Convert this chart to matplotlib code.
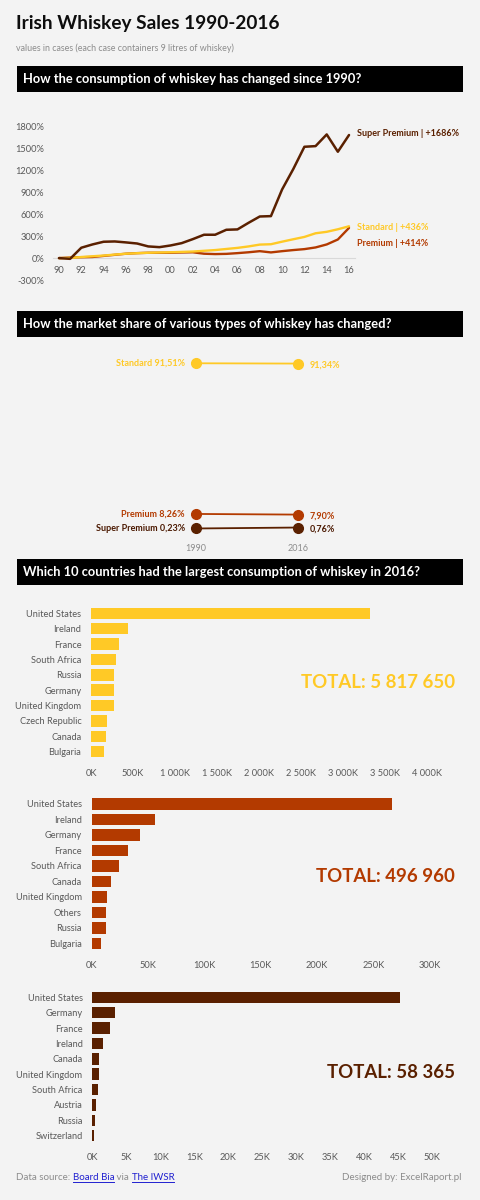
import matplotlib
matplotlib.use('Agg')
import matplotlib.pyplot as plt
from matplotlib.patches import Rectangle
from matplotlib.ticker import FuncFormatter, FixedLocator

plt.rcParams['font.family'] = ['Lato', 'DejaVu Sans']

# ---------------- data ----------------
years = list(range(1990, 2017))
super_premium = [0, -10, 142, 187, 224, 228, 215, 200, 160, 150, 173, 205, 260, 320, 320,
                 388, 393, 484, 570, 575, 940, 1219, 1525, 1534, 1694, 1457, 1686]
standard = [0, 3, 15, 25, 35, 48, 60, 67, 73, 77, 80, 85, 90, 100, 110,
            125, 140, 160, 185, 190, 225, 258, 290, 340, 360, 395, 436]
premium = [0, 8, 12, 15, 30, 45, 60, 68, 73, 73, 73, 77, 80, 60, 55,
           58, 68, 80, 95, 78, 95, 110, 123, 146, 187, 255, 414]
line_labels = ['Super Premium | +1686%', 'Standard | +436%', 'Premium | +414%']

share_years = [1990, 2016]
share_standard = [91.51, 91.34]
share_premium = [8.26, 7.90]
share_super = [0.23, 0.76]
share_names = ['Standard', 'Premium', 'Super Premium']

std_countries = ['United States', 'Ireland', 'France', 'South Africa', 'Russia', 'Germany',
                 'United Kingdom', 'Czech Republic', 'Canada', 'Bulgaria']
std_values = [3325000, 437000, 338000, 298000, 274000, 272000, 270000, 195000, 175000, 155000]
std_total = 'TOTAL: 5 817 650'

prem_countries = ['United States', 'Ireland', 'Germany', 'France', 'South Africa', 'Canada',
                  'United Kingdom', 'Others', 'Russia', 'Bulgaria']
prem_values = [266700, 56600, 43000, 32600, 24700, 17600, 13700, 12900, 12600, 8400]
prem_total = 'TOTAL: 496 960'

sup_countries = ['United States', 'Germany', 'France', 'Ireland', 'Canada', 'United Kingdom',
                 'South Africa', 'Austria', 'Russia', 'Switzerland']
sup_values = [45250, 3340, 2600, 1530, 990, 940, 790, 590, 350, 250]
sup_total = 'TOTAL: 58 365'

# ---------------- style ----------------
W, H = 480, 1200
BG = '#f3f3f3'
YELLOW = '#FFC926'
RED = '#B33A00'
BROWN = '#5A2000'
GRAY = '#595959'
LGRAY = '#8c8c8c'

fig = plt.figure(figsize=(W / 100, H / 100), dpi=100, facecolor=BG)

# overlay in pixel coordinates for text / bands
bg = fig.add_axes([0, 0, 1, 1], zorder=-1)
bg.set_xlim(0, W)
bg.set_ylim(H, 0)
bg.axis('off')
bg.patch.set_alpha(0)


def px_axes(x0, x1, y0, y1, **kw):
    return fig.add_axes([x0 / W, 1 - y1 / H, (x1 - x0) / W, (y1 - y0) / H], **kw)


# title
bg.text(16, 23, 'Irish Whiskey Sales 1990-2016', fontsize=13.7, fontweight='bold',
        color='#0d0d0d', va='center', ha='left')
bg.text(16, 48, 'values in cases (each case containers 9 litres of whiskey)', fontsize=6.4,
        color=LGRAY, va='center', ha='left')

bands = [(66, 91.5, 'How the consumption of whiskey has changed since 1990?'),
         (311, 336.5, 'How the market share of various types of whiskey has changed?'),
         (559, 584.5, 'Which 10 countries had the largest consumption of whiskey in 2016?')]
for y0, y1, txt in bands:
    bg.add_patch(Rectangle((16.5, y0), 446, y1 - y0, facecolor='black', edgecolor='none'))
    bg.text(23, (y0 + y1) / 2 + 0.5, txt, color='white', fontsize=9.25, fontweight='bold',
            va='center', ha='left')

# ---------------- line chart ----------------
ax = px_axes(53.4, 354.6, 126.7, 280)
ax.set_facecolor('none')
ax.set_xlim(1989.5, 2016.5)
ax.set_ylim(-300, 1800)
ax.plot(years, premium, color=RED, lw=1.7, solid_capstyle='round', zorder=3)
ax.plot(years, standard, color=YELLOW, lw=1.7, solid_capstyle='round', zorder=3)
ax.plot(years, super_premium, color=BROWN, lw=1.8, solid_capstyle='round', zorder=4)
for s in ['top', 'right', 'left']:
    ax.spines[s].set_visible(False)
ax.spines['bottom'].set_position(('data', 0))
ax.spines['bottom'].set_color('#d9d9d9')
ax.spines['bottom'].set_linewidth(0.8)
ax.set_yticks(range(-300, 1801, 300))
ax.yaxis.set_major_formatter(FuncFormatter(lambda v, p: f'{int(v)}%'))
ax.set_xticks(range(1990, 2017, 2))
ax.xaxis.set_major_formatter(FuncFormatter(lambda v, p: f'{int(v) % 100:02d}'))
ax.tick_params(axis='both', length=0, labelsize=6.7, labelcolor=GRAY)
ax.tick_params(axis='y', pad=6.5)
ax.tick_params(axis='x', pad=5.5)

for series, lab, col, off in [(super_premium, line_labels[0], BROWN, (5.8, 1.4)),
                              (standard, line_labels[1], YELLOW, (5.8, -1.0)),
                              (premium, line_labels[2], RED, (5.8, -11.5))]:
    ax.annotate(lab, xy=(years[-1], series[-1]), xytext=off, textcoords='offset points',
                fontsize=6.5, fontweight='bold', color=col, va='center', ha='left',
                annotation_clip=False)

# ---------------- slope chart ----------------
sx = px_axes(196, 298, 347.9, 528.9)
sx.set_xlim(1990, 2016)
sx.set_ylim(0, 100)
sx.axis('off')
for vals, name, col, lcol in [(share_standard, share_names[0], YELLOW, YELLOW),
                              (share_premium, share_names[1], RED, RED),
                              (share_super, share_names[2], BROWN, '#4a1800')]:
    sx.plot(share_years, vals, color=col, lw=1.3, marker='o', markersize=7,
            clip_on=False, zorder=3)
    sx.annotate(f'{name} {vals[0]:.2f}%'.replace('.', ','), xy=(share_years[0], vals[0]),
                xytext=(-8, 0), textcoords='offset points', ha='right', va='center',
                fontsize=6.5, fontweight='bold', color=lcol, annotation_clip=False)
    sx.annotate(f'{vals[1]:.2f}%'.replace('.', ','), xy=(share_years[1], vals[1]),
                xytext=(8.5, -0.8), textcoords='offset points', ha='left', va='center',
                fontsize=6.5, fontweight='bold', color=lcol, annotation_clip=False)
for yr in share_years:
    sx.annotate(str(yr), xy=(yr, 0), xytext=(0, -14), textcoords='offset points',
                ha='center', va='center', fontsize=6.5, color=LGRAY, annotation_clip=False)


# ---------------- bar charts ----------------
def fmt_k(v, p):
    k = int(round(v / 1000))
    return f'{k:,}'.replace(',', ' ') + 'K'


def bar_chart(x0, x1, ymid0, ymid1, xmax, step, cats, vals, col, total, total_y):
    sp = (ymid1 - ymid0) / (len(cats) - 1)
    a = px_axes(x0, x1, ymid0 - sp / 2, ymid1 + sp / 2)
    a.set_facecolor('none')
    pos = list(range(len(cats)))
    a.barh(pos, vals, height=0.74, color=col)
    a.set_ylim(len(cats) - 0.5, -0.5)
    a.set_xlim(0, xmax)
    a.set_yticks(pos)
    a.set_yticklabels(cats)
    a.xaxis.set_major_locator(FixedLocator(list(range(0, xmax + 1, step))))
    a.xaxis.set_major_formatter(FuncFormatter(fmt_k))
    for s in a.spines.values():
        s.set_visible(False)
    a.tick_params(axis='both', length=0, labelsize=6.7, labelcolor=GRAY)
    a.tick_params(axis='y', pad=7)
    a.tick_params(axis='x', pad=7)
    bg.text(455, total_y, total, fontsize=13.4, fontweight='bold', color=col,
            ha='right', va='center')
    return a


bar_chart(91, 426.6, 613.3, 751.7, 4000000, 500000, std_countries, std_values, YELLOW,
          std_total, 682)
bar_chart(91.5, 430, 804, 943.3, 300000, 50000, prem_countries, prem_values, RED,
          prem_total, 877)
bar_chart(92.3, 432.3, 997.3, 1135.7, 50000, 5000, sup_countries, sup_values, BROWN,
          sup_total, 1072)

# ---------------- footer ----------------
FOOT_Y = 1180
LINK = '#2020d0'
parts = [('Data source: ', LGRAY, False), ('Board Bia', LINK, True), (' via ', LGRAY, False),
         ('The IWSR', LINK, True)]
fig.canvas.draw()
renderer = fig.canvas.get_renderer()
x = 16
for txt, col, under in parts:
    t = bg.text(x, FOOT_Y, txt, fontsize=7, color=col, ha='left', va='baseline')
    bb = t.get_window_extent(renderer=renderer)
    w = bb.width
    if under:
        bg.plot([x, x + w], [FOOT_Y + 1.5, FOOT_Y + 1.5], color=col, lw=0.7)
    x += w
bg.text(462, FOOT_Y, 'Designed by: ExcelRaport.pl', fontsize=7, color=LGRAY, ha='right',
        va='baseline')

fig.savefig('out.png', dpi=100, facecolor=BG)
